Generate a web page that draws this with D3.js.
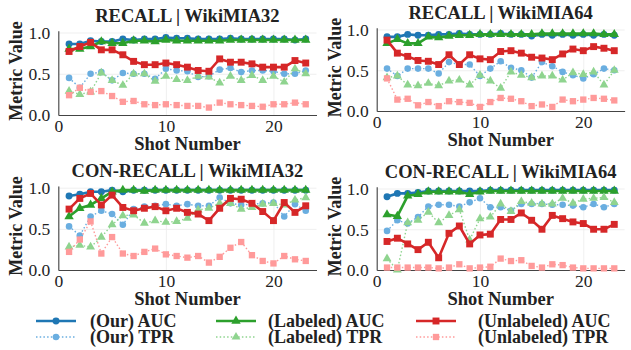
<!DOCTYPE html>
<html>
<head>
<meta charset="utf-8">
<script src="https://cdn.jsdelivr.net/npm/d3@7"></script>
<style>
  html, body { margin: 0; padding: 0; background: #fff; }
  svg { display: block; }
  text { font-family: "Liberation Serif", "DejaVu Serif", serif; fill: #222; }
  .ttl, .lab, .leg { font-weight: bold; }
</style>
</head>
<body>
<div id="chart"></div>
<script>
// Four small-multiples: AUC / TPR vs shot number, three methods each.
const shots = d3.range(1, 24);
const xTicks = [0, 10, 20];
const yTicks = [0, 0.5, 1.0];
const panelTitles = ["RECALL | WikiMIA32", "RECALL | WikiMIA64", "CON-RECALL | WikiMIA32", "CON-RECALL | WikiMIA64"];
const seriesNames = ["(Our) AUC", "(Our) TPR", "(Labeled) AUC", "(Labeled) TPR", "(Unlabeled) AUC", "(Unlabeled) TPR"];

// RECALL | WikiMIA32
const r32OurAuc = [0.86,0.86,0.90,0.89,0.89,0.92,0.91,0.92,0.92,0.94,0.93,0.93,0.92,0.92,0.92,0.93,0.92,0.92,0.92,0.92,0.92,0.91,0.92];
const r32OurTpr = [0.45,0.33,0.50,0.52,0.42,0.51,0.50,0.50,0.44,0.56,0.54,0.53,0.46,0.47,0.55,0.57,0.52,0.54,0.54,0.53,0.50,0.50,0.54];
const r32LabAuc = [0.80,0.80,0.83,0.89,0.87,0.87,0.90,0.90,0.89,0.91,0.90,0.90,0.90,0.90,0.90,0.91,0.91,0.91,0.91,0.91,0.91,0.91,0.91];
const r32LabTpr = [0.29,0.25,0.28,0.51,0.42,0.36,0.50,0.50,0.41,0.47,0.43,0.42,0.47,0.46,0.39,0.47,0.42,0.48,0.42,0.47,0.40,0.56,0.50];
const r32UnlAuc = [0.77,0.83,0.88,0.79,0.79,0.73,0.65,0.61,0.61,0.63,0.61,0.58,0.54,0.53,0.68,0.64,0.64,0.62,0.58,0.58,0.58,0.66,0.63];
const r32UnlTpr = [0.24,0.33,0.28,0.29,0.23,0.16,0.17,0.13,0.12,0.13,0.12,0.11,0.11,0.09,0.15,0.13,0.12,0.11,0.10,0.13,0.13,0.15,0.13];

// RECALL | WikiMIA64
const r64OurAuc = [0.91,0.91,0.94,0.93,0.93,0.94,0.94,0.95,0.94,0.94,0.94,0.95,0.94,0.94,0.92,0.94,0.93,0.94,0.93,0.94,0.93,0.94,0.93];
const r64OurTpr = [0.52,0.43,0.52,0.52,0.52,0.46,0.60,0.57,0.57,0.43,0.52,0.61,0.53,0.50,0.41,0.60,0.55,0.48,0.44,0.40,0.45,0.52,0.50];
const r64LabAuc = [0.83,0.88,0.83,0.83,0.91,0.90,0.92,0.93,0.93,0.94,0.94,0.94,0.94,0.94,0.94,0.95,0.95,0.95,0.95,0.95,0.95,0.94,0.94];
const r64LabTpr = [0.41,0.43,0.32,0.31,0.34,0.31,0.37,0.38,0.32,0.44,0.37,0.28,0.48,0.44,0.41,0.43,0.43,0.38,0.47,0.45,0.48,0.32,0.50];
const r64UnlAuc = [0.87,0.71,0.67,0.62,0.61,0.57,0.69,0.57,0.69,0.64,0.63,0.73,0.74,0.71,0.66,0.65,0.63,0.70,0.76,0.74,0.79,0.77,0.74];
const r64UnlTpr = [0.40,0.14,0.15,0.07,0.11,0.06,0.12,0.11,0.10,0.05,0.11,0.16,0.15,0.12,0.06,0.08,0.05,0.14,0.12,0.14,0.16,0.15,0.13];

// CON-RECALL | WikiMIA32
const c32OurAuc = [0.90,0.92,0.95,0.95,0.97,0.95,0.97,0.97,0.97,0.97,0.97,0.97,0.97,0.97,0.97,0.97,0.97,0.97,0.97,0.97,0.97,0.97,0.97];
const c32OurTpr = [0.53,0.42,0.65,0.72,0.68,0.55,0.74,0.77,0.78,0.80,0.78,0.80,0.78,0.78,0.88,0.81,0.79,0.80,0.81,0.82,0.65,0.80,0.72];
const c32LabAuc = [0.65,0.75,0.79,0.87,0.95,0.97,0.97,0.96,0.97,0.97,0.97,0.97,0.97,0.97,0.97,0.97,0.97,0.97,0.97,0.97,0.97,0.97,0.97];
const c32LabTpr = [0.28,0.30,0.28,0.40,0.55,0.66,0.67,0.57,0.60,0.58,0.59,0.63,0.73,0.75,0.81,0.81,0.74,0.76,0.80,0.81,0.79,0.85,0.88];
const c32UnlAuc = [0.74,0.87,0.93,0.79,0.91,0.76,0.72,0.75,0.77,0.72,0.75,0.70,0.68,0.60,0.75,0.87,0.86,0.81,0.71,0.60,0.82,0.70,0.78];
const c32UnlTpr = [0.22,0.37,0.59,0.20,0.40,0.20,0.17,0.22,0.26,0.19,0.17,0.15,0.17,0.09,0.16,0.27,0.34,0.18,0.11,0.08,0.17,0.13,0.11];

// CON-RECALL | WikiMIA64
const c64OurAuc = [0.90,0.94,0.94,0.95,0.97,0.97,0.97,0.97,0.97,0.97,0.98,0.98,0.98,0.98,0.98,0.98,0.98,0.98,0.98,0.98,0.98,0.98,0.98];
const c64OurTpr = [0.48,0.61,0.57,0.65,0.78,0.80,0.80,0.78,0.83,0.88,0.77,0.77,0.73,0.81,0.81,0.81,0.80,0.80,0.79,0.77,0.81,0.77,0.81];
const c64LabAuc = [0.68,0.66,0.91,0.93,0.96,0.96,0.96,0.96,0.93,0.96,0.97,0.97,0.97,0.97,0.97,0.97,0.97,0.97,0.97,0.97,0.97,0.97,0.97];
const c64LabTpr = [0.14,0.00,0.58,0.61,0.71,0.58,0.67,0.74,0.37,0.63,0.65,0.81,0.72,0.84,0.82,0.81,0.81,0.88,0.82,0.87,0.88,0.89,0.83];
const c64UnlAuc = [0.35,0.39,0.32,0.25,0.34,0.15,0.45,0.54,0.32,0.43,0.44,0.62,0.62,0.70,0.61,0.50,0.67,0.63,0.59,0.57,0.50,0.50,0.56];
const c64UnlTpr = [0.03,0.03,0.03,0.03,0.03,0.02,0.03,0.07,0.02,0.03,0.04,0.14,0.11,0.12,0.05,0.03,0.07,0.06,0.03,0.02,0.02,0.02,0.02];

const panelSeries = [
  [r32OurAuc, r32OurTpr, r32LabAuc, r32LabTpr, r32UnlAuc, r32UnlTpr],
  [r64OurAuc, r64OurTpr, r64LabAuc, r64LabTpr, r64UnlAuc, r64UnlTpr],
  [c32OurAuc, c32OurTpr, c32LabAuc, c32LabTpr, c32UnlAuc, c32UnlTpr],
  [c64OurAuc, c64OurTpr, c64LabAuc, c64LabTpr, c64UnlAuc, c64UnlTpr],
];

// styling per series
const styles = [
  { color: "#1f77b4", width: 2.6, dash: null, sym: d3.symbolCircle, size: 38 },
  { color: "#6aaee0", width: 1.4, dash: "1.5,2.2", sym: d3.symbolCircle, size: 34 },
  { color: "#2ca02c", width: 2.6, dash: null, sym: d3.symbolTriangle, size: 38 },
  { color: "#8fd48f", width: 1.4, dash: "1.5,2.2", sym: d3.symbolTriangle, size: 34 },
  { color: "#d62728", width: 2.6, dash: null, sym: d3.symbolSquare, size: 48 },
  { color: "#ff9a9a", width: 1.4, dash: "1.5,2.2", sym: d3.symbolSquare, size: 40 },
];

const W = 631, H = 350;
// plot boxes: left, right, bottom (y=0), pixel per unit in y
const boxes = [
  { l: 58.3, r: 316.5, y0: 115, unit: 82.5 },
  { l: 376.7, r: 624.6, y0: 111, unit: 81.5 },
  { l: 58.3, r: 316.5, y0: 270, unit: 82.3 },
  { l: 376.7, r: 624.6, y0: 270, unit: 81.5 },
];

const svg = d3.select("#chart").append("svg").attr("width", W).attr("height", H);

boxes.forEach((b, pi) => {
  const x = d3.scaleLinear([0, 24], [b.l, b.r]);
  const y = d3.scaleLinear([0, 1.02], [b.y0, b.y0 - b.unit * 1.02]);
  const g = svg.append("g");
  const top = y(1.02);

  // faint grid
  g.append("g").attr("transform", `translate(0,${b.y0})`)
    .call(d3.axisBottom(x).tickValues(xTicks).tickSize(-(b.y0 - top)).tickFormat(""))
    .call((a) => { a.select(".domain").remove(); a.selectAll("line").attr("stroke", "#ebebeb").attr("stroke-width", 0.8); });
  g.append("g").attr("transform", `translate(${b.l},0)`)
    .call(d3.axisLeft(y).tickValues(yTicks).tickSize(-(b.r - b.l)).tickFormat(""))
    .call((a) => { a.select(".domain").remove(); a.selectAll("line").attr("stroke", "#ebebeb").attr("stroke-width", 0.8); });

  // axes (spines + tick labels, no tick marks)
  const xa = g.append("g").attr("transform", `translate(0,${b.y0})`)
    .call(d3.axisBottom(x).tickValues(xTicks).tickSize(0).tickPadding(5).tickFormat(d3.format("d")));
  const ya = g.append("g").attr("transform", `translate(${b.l},0)`)
    .call(d3.axisLeft(y).tickValues(yTicks).tickSize(0).tickPadding(8).tickFormat(d3.format(".1f")));
  [xa, ya].forEach((a) => {
    a.attr("font-family", null).attr("font-size", null);
    a.select(".domain").attr("stroke", "#444").attr("stroke-width", 1.1);
    a.selectAll("text").style("font-size", "17.5px").attr("fill", "#222");
  });
  ya.selectAll("text").attr("dy", "0.33em");

  // series
  const line = d3.line().x((d, i) => x(shots[i])).y((d) => y(d));
  panelSeries[pi].forEach((vals, si) => {
    const st = styles[si];
    g.append("path").datum(vals)
      .attr("d", line).attr("fill", "none")
      .attr("stroke", st.color).attr("stroke-width", st.width)
      .attr("stroke-dasharray", st.dash);
    g.append("g").selectAll("path").data(vals).join("path")
      .attr("d", d3.symbol(st.sym, st.size))
      .attr("transform", (d, i) => `translate(${x(shots[i])},${y(d)})`)
      .attr("fill", st.color);
  });

  // titles and labels
  const cx = (b.l + b.r) / 2;
  g.append("text").attr("class", "ttl").attr("text-anchor", "middle")
    .attr("x", cx).attr("y", top - 9)
    .style("font-size", "18.5px").text(panelTitles[pi]);
  g.append("text").attr("class", "lab").attr("text-anchor", "middle")
    .attr("x", cx).attr("y", b.y0 + 35)
    .style("font-size", "18.5px").text("Shot Number");
  g.append("text").attr("class", "lab").attr("text-anchor", "middle")
    .attr("transform", `translate(${b.l - 36},${(top + b.y0) / 2 - 2}) rotate(-90)`)
    .style("font-size", "18px").text("Metric Value");
});

// legend: 3 columns x 2 rows
const legLineX = [36, 216, 416];
const legTextX = [90, 268, 478];
const legY = [321, 337];
const leg = svg.append("g");
seriesNames.forEach((name, si) => {
  const st = styles[si];
  const c = Math.floor(si / 2), ly = legY[si % 2];
  const lx = legLineX[c];
  leg.append("line").attr("x1", lx).attr("x2", lx + 40).attr("y1", ly).attr("y2", ly)
    .attr("stroke", st.color).attr("stroke-width", st.width).attr("stroke-dasharray", st.dash);
  leg.append("path").attr("d", d3.symbol(st.sym, st.size))
    .attr("transform", `translate(${lx + 20},${ly})`).attr("fill", st.color);
  leg.append("text").attr("class", "leg").attr("x", legTextX[c]).attr("y", ly + 6)
    .style("font-size", "18px").text(name);
});
</script>
</body>
</html>
